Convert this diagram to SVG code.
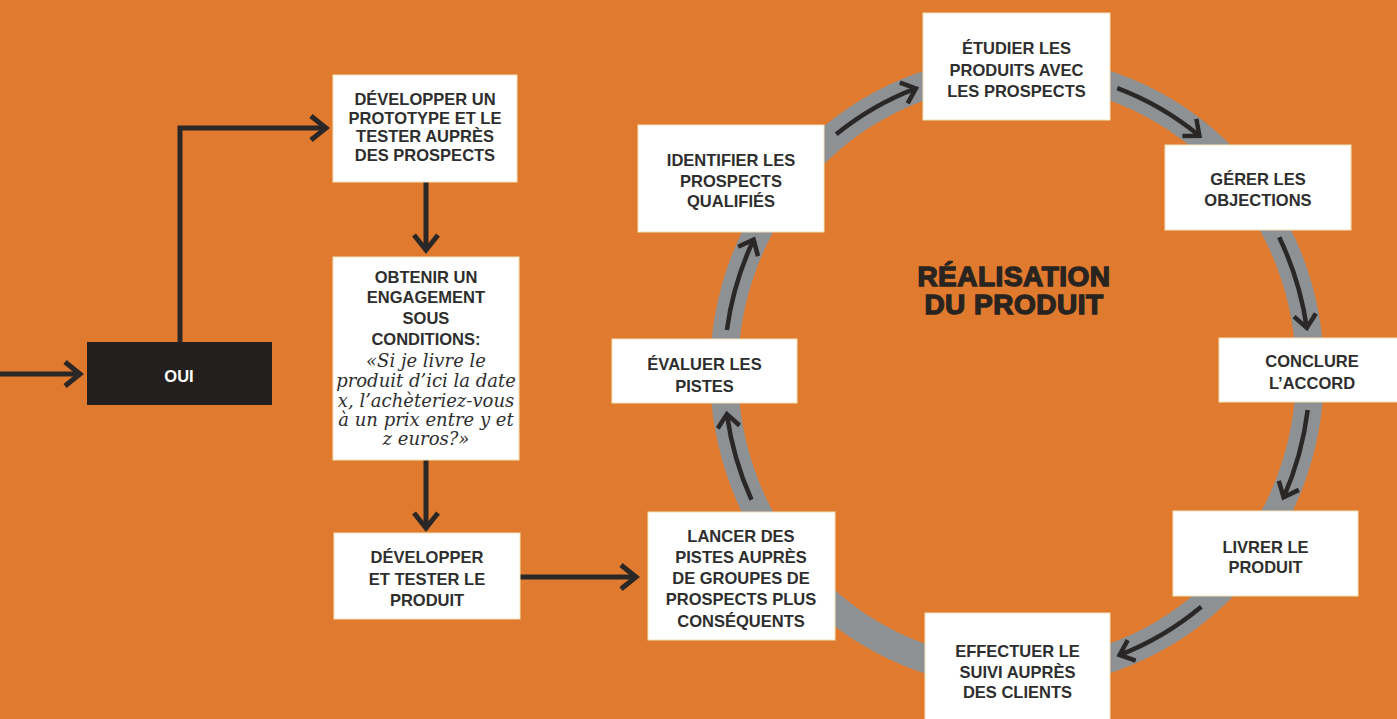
<svg xmlns="http://www.w3.org/2000/svg" width="1397" height="719" viewBox="0 0 1397 719">
<defs>
<style>
.box{fill:#ffffff;stroke:#f3e3b8;stroke-width:1}
.t{font-family:"Liberation Sans",Arial,sans-serif;font-weight:700;font-size:16.5px;fill:#2e2e2e;text-anchor:middle}
.it{font-family:"DejaVu Serif","Liberation Serif",serif;font-style:italic;font-size:18px;fill:#2e2e2e;text-anchor:middle}
.ttl{font-family:"Liberation Sans",Arial,sans-serif;font-weight:700;font-size:28px;fill:#2a2420;stroke:#2a2420;stroke-width:1.4;text-anchor:middle;letter-spacing:0.5px}
.ln{fill:none;stroke:#2a2726;stroke-width:5}
.ra{fill:none;stroke:#2a2726;stroke-width:4.5}
</style>
<marker id="ah" viewBox="0 0 22 30" refX="19" refY="15" markerWidth="22" markerHeight="30" markerUnits="userSpaceOnUse" orient="auto" overflow="visible">
<path d="M4,3 L19,15 L4,27" fill="none" stroke="#2a2726" stroke-width="5"/>
</marker>
<marker id="rh" viewBox="0 0 20 26" refX="16" refY="13" markerWidth="20" markerHeight="26" markerUnits="userSpaceOnUse" orient="auto" overflow="visible">
<path d="M3,2 L16,13 L3,24" fill="none" stroke="#2a2726" stroke-width="4.5"/>
</marker>
</defs>
<rect x="0" y="0" width="1397" height="719" fill="#e07a2f"/>

<ellipse id="ring" cx="1017" cy="372" rx="293" ry="302" fill="none" stroke="#8d9194" stroke-width="28"/>

<g id="connectors">
<path class="ln" d="M0,374 L80,374" marker-end="url(#ah)"/>
<path class="ln" d="M180,342 L180,128 L326,128" marker-end="url(#ah)"/>
<path class="ln" d="M426,182 L426,250" marker-end="url(#ah)"/>
<path class="ln" d="M426,460 L426,528" marker-end="url(#ah)"/>
<path class="ln" d="M520,577 L636,577" marker-end="url(#ah)"/>
<path class="ra" d="M836.2,134.3 A293,302 0 0 1 915.9,88.4" marker-end="url(#rh)"/>
<path class="ra" d="M1117.2,88.1 A293,302 0 0 1 1199.4,135.7" marker-end="url(#rh)"/>
<path class="ra" d="M1279.2,237.3 A293,302 0 0 1 1306.8,327.9" marker-end="url(#rh)"/>
<path class="ra" d="M1307.7,409.9 A293,302 0 0 1 1283.6,497.3" marker-end="url(#rh)"/>
<path class="ra" d="M1201.3,606.7 A293,302 0 0 1 1119.6,655" marker-end="url(#rh)"/>
<path class="ra" d="M751.5,499.7 A293,302 0 0 1 726.9,414.1" marker-end="url(#rh)"/>
<path class="ra" d="M726.9,330 A293,302 0 0 1 753.6,239.7" marker-end="url(#rh)"/>
</g>

<g id="oui">
<rect x="87" y="342" width="185" height="63" fill="#231f1e"/>
<text x="179" y="382" class="t" style="fill:#ffffff">OUI</text>
</g>

<g id="prototype">
<rect class="box" x="333" y="75" width="184" height="107"/>
<text class="t" x="425" y="105">DÉVELOPPER UN</text>
<text class="t" x="425" y="123.5">PROTOTYPE ET LE</text>
<text class="t" x="425" y="142">TESTER AUPRÈS</text>
<text class="t" x="425" y="160.5">DES PROSPECTS</text>
</g>

<g id="engagement">
<rect class="box" x="333" y="257" width="186" height="203"/>
<text class="t" x="426" y="283">OBTENIR UN</text>
<text class="t" x="426" y="303">ENGAGEMENT</text>
<text class="t" x="426" y="324">SOUS</text>
<text class="t" x="426" y="345">CONDITIONS:</text>
<text class="it" x="426" y="367">«Si je livre le</text>
<text class="it" x="426" y="387">produit d’ici la date</text>
<text class="it" x="426" y="407">x, l’achèteriez-vous</text>
<text class="it" x="426" y="426">à un prix entre y et</text>
<text class="it" x="426" y="445">z euros?»</text>
</g>

<g id="developper">
<rect class="box" x="334" y="533" width="186" height="86"/>
<text class="t" x="427" y="563">DÉVELOPPER</text>
<text class="t" x="427" y="585">ET TESTER LE</text>
<text class="t" x="427" y="606">PRODUIT</text>
</g>

<g id="lancer">
<rect class="box" x="648" y="512" width="187" height="128"/>
<text class="t" x="741" y="542">LANCER DES</text>
<text class="t" x="741" y="563">PISTES AUPRÈS</text>
<text class="t" x="741" y="584">DE GROUPES DE</text>
<text class="t" x="741" y="605">PROSPECTS PLUS</text>
<text class="t" x="741" y="627">CONSÉQUENTS</text>
</g>

<g id="evaluer">
<rect class="box" x="612" y="339" width="185" height="64"/>
<text class="t" x="704.5" y="370">ÉVALUER LES</text>
<text class="t" x="704.5" y="391.5">PISTES</text>
</g>

<g id="identifier">
<rect class="box" x="638" y="125" width="186" height="107"/>
<text class="t" x="731" y="166">IDENTIFIER LES</text>
<text class="t" x="731" y="186.5">PROSPECTS</text>
<text class="t" x="731" y="206.5">QUALIFIÉS</text>
</g>

<g id="etudier">
<rect class="box" x="923" y="13" width="187" height="107"/>
<text class="t" x="1016.5" y="54">ÉTUDIER LES</text>
<text class="t" x="1016.5" y="76">PRODUITS AVEC</text>
<text class="t" x="1016.5" y="96.5">LES PROSPECTS</text>
</g>

<g id="gerer">
<rect class="box" x="1165" y="145" width="186" height="85"/>
<text class="t" x="1258" y="185">GÉRER LES</text>
<text class="t" x="1258" y="206">OBJECTIONS</text>
</g>

<g id="conclure">
<rect class="box" x="1219" y="338" width="190" height="64"/>
<text class="t" x="1312" y="367">CONCLURE</text>
<text class="t" x="1312" y="389">L’ACCORD</text>
</g>

<g id="livrer">
<rect class="box" x="1173" y="511" width="185" height="85"/>
<text class="t" x="1265.5" y="552.5">LIVRER LE</text>
<text class="t" x="1265.5" y="572.5">PRODUIT</text>
</g>

<g id="effectuer">
<rect class="box" x="925" y="613" width="185" height="110"/>
<text class="t" x="1017.5" y="657">EFFECTUER LE</text>
<text class="t" x="1017.5" y="678">SUIVI AUPRÈS</text>
<text class="t" x="1017.5" y="698">DES CLIENTS</text>
</g>

<g id="title">
<text class="ttl"><tspan x="1014" y="286">RÉALISATION</tspan><tspan x="1014" y="314">DU PRODUIT</tspan></text>
</g>
</svg>
